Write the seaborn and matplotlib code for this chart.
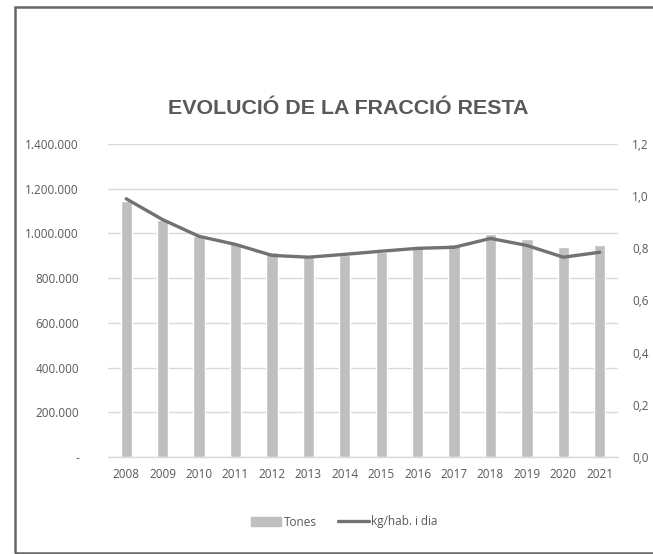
import matplotlib
matplotlib.use("Agg")
import matplotlib.pyplot as plt
import matplotlib.ticker as mticker
from matplotlib.patches import Rectangle
from matplotlib.lines import Line2D
from matplotlib.patches import Patch
import numpy as np
import pandas as pd
import seaborn as sns

# ── data ─────────────────────────────────────────────────────────────────────
years = ["2008", "2009", "2010", "2011", "2012", "2013", "2014",
         "2015", "2016", "2017", "2018", "2019", "2020", "2021"]
tones = [1147000, 1062000, 987000, 956000, 916000, 895000, 902000,
         916000, 938000, 951000, 996000, 973000, 938000, 947000]
kg_hab_dia = [0.990, 0.910, 0.846, 0.815, 0.773, 0.766, 0.777,
              0.789, 0.800, 0.804, 0.838, 0.811, 0.766, 0.785]

BAR = "#BFBFBF"
LINE = "#767171"
TXT = "#595959"
GRID = "#D9D9D9"

sns.set_theme(style="white")
plt.rcParams["font.family"] = ["Open Sans", "DejaVu Sans"]

W, H = 653, 554
fig = plt.figure(figsize=(W / 100, H / 100), dpi=100)
ax = fig.add_axes([108 / W, 1 - 457 / H, 510 / W, (457 - 144) / H])

df = pd.DataFrame({"year": years, "tones": tones, "kg": kg_hab_dia})
sns.barplot(data=df, x="year", y="tones", color=BAR, saturation=1,
            width=0.31, ax=ax)
ax.set_xlim(-0.5, len(years) - 0.5)
ax.set_ylim(0, 1400000)
ax.yaxis.set_major_locator(mticker.MultipleLocator(200000))
ax.yaxis.set_major_formatter(mticker.FuncFormatter(
    lambda v, p: "-" if v == 0 else f"{int(v):,}".replace(",", ".")))
ax.grid(axis="y", color=GRID, lw=1)
ax.set_axisbelow(True)
for s in ["top", "right", "left"]:
    ax.spines[s].set_visible(False)
ax.spines["bottom"].set_color(GRID)
ax.spines["bottom"].set_linewidth(1)
ax.set_xlabel("")
ax.set_ylabel("")
ax.tick_params(axis="y", length=0, pad=21, labelsize=8.5, labelcolor=TXT)
ax.tick_params(axis="x", length=0, pad=8, labelsize=8.5, labelcolor=TXT)
# small tick marks between categories
ax.set_xticks(np.arange(len(years) + 1) - 0.5, minor=True)
ax.tick_params(axis="x", which="minor", length=4, color=GRID, width=1)

ax2 = ax.twinx()
sns.lineplot(data=df, x="year", y="kg", color=LINE, lw=2.4, sort=False, ax=ax2)
ax2.set_ylim(0, 1.2)
ax2.yaxis.set_major_locator(mticker.MultipleLocator(0.2))
ax2.yaxis.set_major_formatter(mticker.FuncFormatter(
    lambda v, p: f"{v:.1f}".replace(".", ",")))
ax2.grid(False)
for s in ax2.spines.values():
    s.set_visible(False)
ax2.set_xlabel("")
ax2.set_ylabel("")
ax2.tick_params(axis="y", length=0, pad=10, labelsize=8.5, labelcolor=TXT)
ax2.set_xlim(-0.5, len(years) - 0.5)

fig.text(348 / W, 1 - 108 / H, "EVOLUCIÓ DE LA FRACCIÓ RESTA",
         ha="center", va="center", fontsize=15.4, fontweight="bold",
         color=TXT, family=["Liberation Sans", "DejaVu Sans"])

handles = [Patch(color=BAR, label="Tones"),
           Line2D([0], [0], color=LINE, lw=2.4, label="kg/hab. i dia")]
fig.legend(handles=handles, loc="center", bbox_to_anchor=(344 / W, 1 - 522 / H),
           ncol=2, frameon=False, fontsize=8.5, labelcolor=TXT,
           handlelength=2.6, handletextpad=0.2, columnspacing=1.8)

fig.patches.append(Rectangle((15 / W, 1 - 553 / H), 1.2, (553 - 7) / H,
                             transform=fig.transFigure, fill=False,
                             edgecolor="#666666", lw=1.8, clip_on=False))

fig.savefig("out.png", dpi=100)
